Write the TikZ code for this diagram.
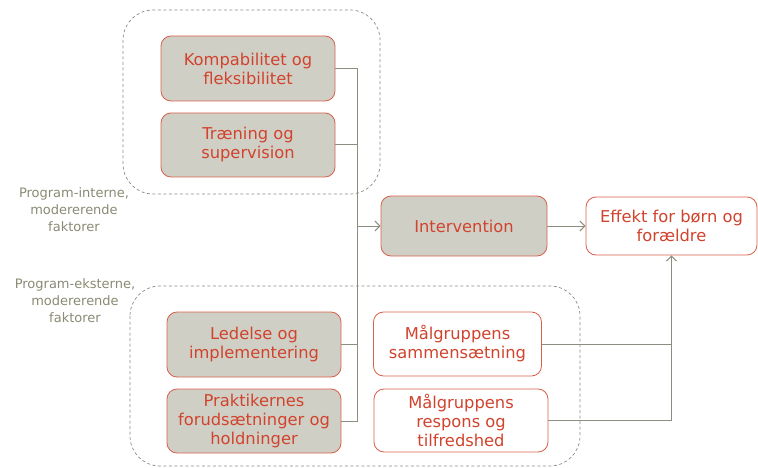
\documentclass[tikz,border=0pt]{standalone}
\usepackage{fontspec}
\setmainfont{DejaVu Sans}
\usetikzlibrary{arrows.meta}
\definecolor{boxfill}{HTML}{D0CFC6}
\definecolor{boxline}{HTML}{D9604B}
\definecolor{boxtext}{HTML}{D0432D}
\definecolor{linkgray}{HTML}{8E8E80}
\definecolor{dashgray}{HTML}{8A8A82}
\definecolor{labelgray}{HTML}{8A8A74}
\tikzset{
  factor/.style={draw=boxline, line width=0.85pt, rounded corners=10pt,
    text=boxtext, align=center, inner sep=0pt,
    font=\fontsize{16.3}{19}\selectfont},
  grayfactor/.style={factor, fill=boxfill},
  whitefactor/.style={factor, fill=white},
  group/.style={draw=dashgray, dashed, line width=0.7pt, rounded corners=30pt,
    dash pattern=on 3pt off 2.5pt},
  grouplabel/.style={text=labelgray, align=center,
    font=\fontsize{13}{17}\selectfont},
  conn/.style={draw=linkgray, line width=1pt},
  tip/.style={-{Straight Barb[length=5pt,width=10pt,line width=1pt]}}
}
\begin{document}
\begin{tikzpicture}[x=1pt,y=-1pt]
\useasboundingbox (0,0) rectangle (758,468);

% dashed groups
\draw[group] (123,10) rectangle (380,194);
\draw[group] (130,286) rectangle (580,466);

% group labels
\node[grouplabel] (intlabel) at (74,210) {Program-interne,\\modererende\\faktorer};
\node[grouplabel] (extlabel) at (75,300.5) {Program-eksterne,\\modererende\\faktorer};

% factor boxes
\node[grayfactor, minimum width=174pt, minimum height=65pt] (komp) at (248,68.5) {Kompabilitet og\\fleksibilitet};
\node[grayfactor, minimum width=174pt, minimum height=64pt] (tren) at (248,145) {Træning og\\supervision};
\node[grayfactor, minimum width=166pt, minimum height=60pt] (interv) at (464,226) {Intervention};
\node[whitefactor, minimum width=171pt, minimum height=58pt] (effekt) at (671.5,226) {Effekt for børn og\\forældre};
\node[grayfactor, minimum width=174pt, minimum height=65pt] (ledelse) at (254,344.5) {Ledelse og\\implementering};
\node[grayfactor, minimum width=174pt, minimum height=64pt] (prakt) at (254,421) {Praktikernes\\forudsætninger og\\holdninger};
\node[whitefactor, minimum width=168pt, minimum height=64pt] (maal1) at (457.5,344) {Målgruppens\\sammensætning};
\node[whitefactor, minimum width=174pt, minimum height=63pt] (maal2) at (461,420.5) {Målgruppens\\respons og\\tilfredshed};

% collecting line into the intervention
\coordinate (bus) at (357,226);
\draw[conn] (komp.east) -| (bus);
\draw[conn] (tren.east) -| (bus);
\draw[conn] (ledelse.east) -| (bus);
\draw[conn] (prakt.east) -| (bus);
\draw[conn,tip] (bus) -- (interv.west);

% into the effect
\draw[conn,tip] (interv.east) -- (effekt.west);
\draw[conn,tip] (maal1.east) -| (effekt.south);
\draw[conn] (maal2.east) -| (maal1.east -| effekt.south);
\end{tikzpicture}
\end{document}
